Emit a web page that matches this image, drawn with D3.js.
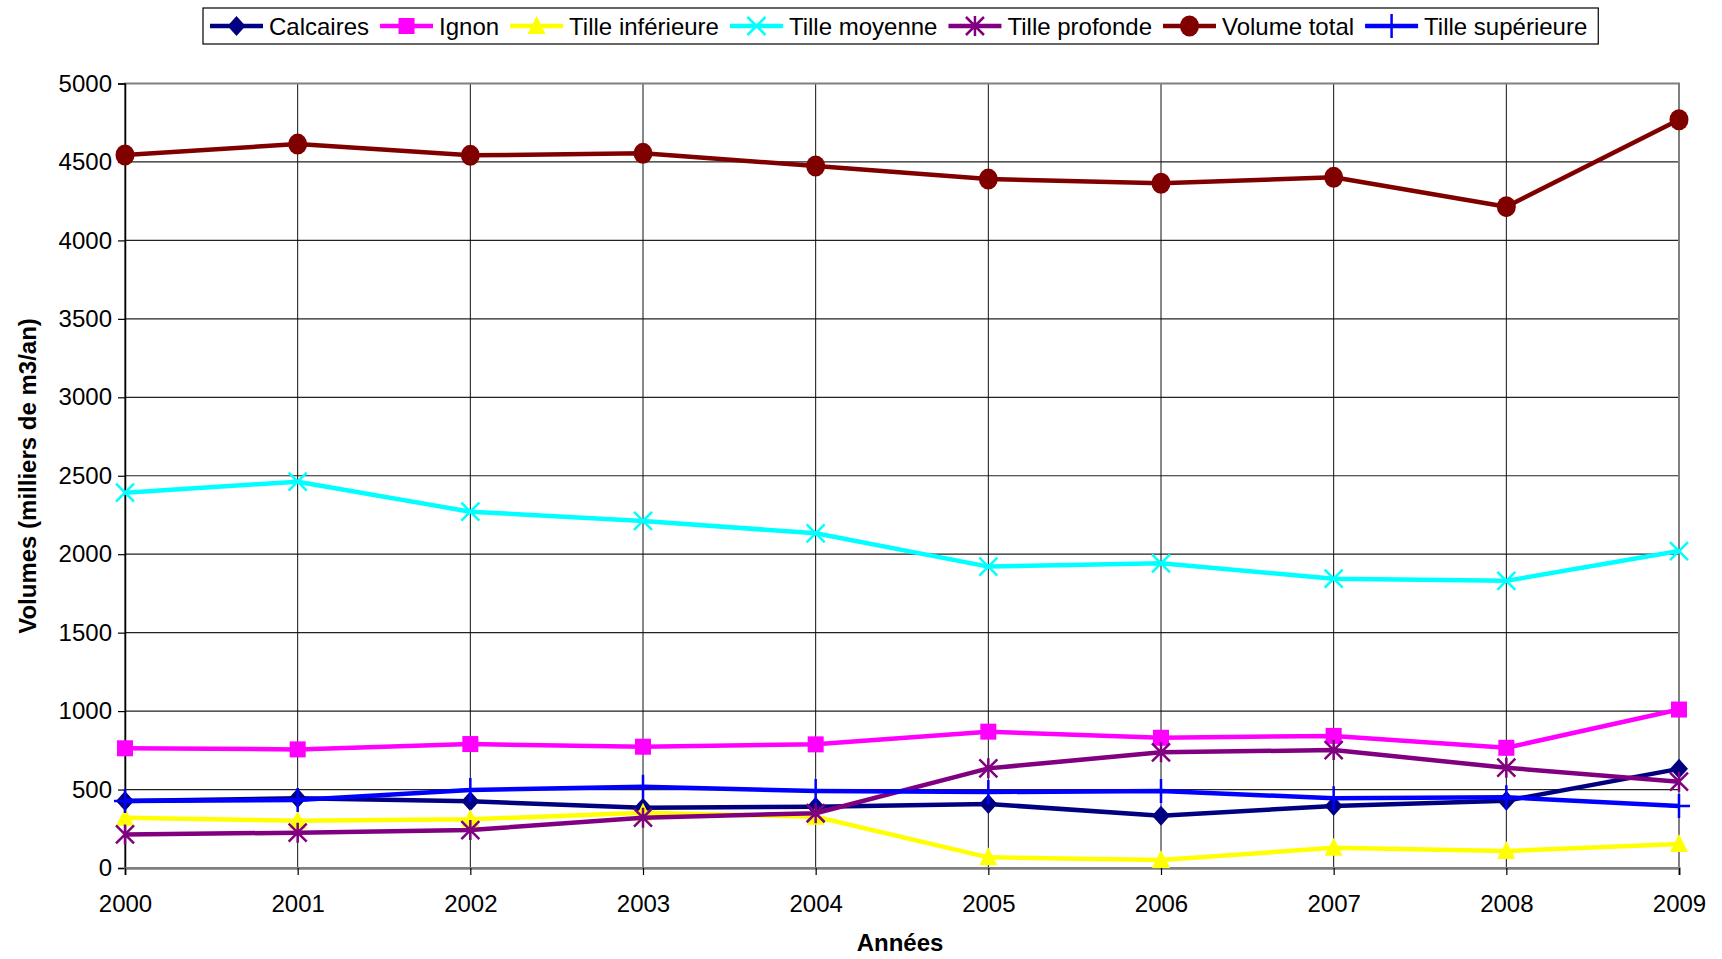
<!DOCTYPE html>
<html><head><meta charset="utf-8">
<script src="https://cdn.jsdelivr.net/npm/d3@7"></script>
<style>
body{margin:0;background:#fff;}
svg{display:block;font-family:"Liberation Sans",Arial,sans-serif;}
</style></head>
<body>
<svg id="chart" width="1722" height="959"></svg>
<script>
const years = [2000,2001,2002,2003,2004,2005,2006,2007,2008,2009];
const yTicks = [0,500,1000,1500,2000,2500,3000,3500,4000,4500,5000];
const seriesNames = ["Calcaires","Ignon","Tille inférieure","Tille moyenne","Tille profonde","Volume total","Tille supérieure"];
const calcaires = [427,444,425,384,391,408,333,395,429,632];
const ignon = [763,756,790,773,788,869,830,842,766,1010];
const tilleInferieure = [321,301,310,352,327,68,51,129,108,153];
const tilleMoyenne = [2392,2462,2271,2212,2133,1921,1942,1844,1830,2020];
const tilleProfonde = [214,225,242,321,349,635,737,752,639,550];
const volumeTotal = [4544,4614,4542,4555,4474,4391,4364,4402,4215,4769];
const tilleSuperieure = [427,433,497,518,491,484,491,444,451,395];
const seriesValues = [calcaires,ignon,tilleInferieure,tilleMoyenne,tilleProfonde,volumeTotal,tilleSuperieure];
const colors = ["#000080","#FF00FF","#FFFF00","#00FFFF","#800080","#800000","#0000FF"];
const markers = ["diamond","square","triangle","x","star","circle","plus"];

const svg = d3.select("#chart");
const L=125,R=1679,T=83.5,B=868;
const x = d3.scaleLinear().domain([2000,2009]).range([L,R]);
const y = d3.scaleLinear().domain([0,5000]).range([B,T]);

// grid
const g = svg.append("g");
g.selectAll(".hg").data(yTicks).enter().append("line")
  .attr("x1",L).attr("x2",R).attr("y1",d=>y(d)).attr("y2",d=>y(d))
  .attr("stroke","#222").attr("stroke-width",1.2);
g.selectAll(".vg").data(years).enter().append("line")
  .attr("x1",d=>x(d)).attr("x2",d=>x(d)).attr("y1",T).attr("y2",B)
  .attr("stroke","#111").attr("stroke-width",1);
// plot border
svg.append("rect").attr("x",L).attr("y",T).attr("width",R-L).attr("height",B-T)
  .attr("fill","none").attr("stroke","#808080").attr("stroke-width",2);

// axes
const ya = svg.append("g").attr("transform",`translate(${L},0)`)
  .call(d3.axisLeft(y).tickValues(yTicks).tickSize(7).tickPadding(6).tickFormat(d3.format("d")));
ya.select(".domain").attr("stroke","#000").attr("stroke-width",1.5);
ya.selectAll(".tick line").attr("stroke","#000").attr("stroke-width",1.2);
ya.selectAll("text").attr("font-size",24).attr("fill","#000").attr("font-family","Liberation Sans, Arial, sans-serif");

const xa = svg.append("g").attr("transform",`translate(0,${B})`)
  .call(d3.axisBottom(x).tickValues(years).tickSize(7).tickPadding(20).tickFormat(d3.format("d")));
xa.select(".domain").attr("stroke","#808080").attr("stroke-width",2.5);
xa.selectAll(".tick line").attr("stroke","#000").attr("stroke-width",1.2);
xa.selectAll("text").attr("font-size",24).attr("fill","#000").attr("font-family","Liberation Sans, Arial, sans-serif");

// titles
svg.append("text").attr("x",(L+R)/2-2).attr("y",951).attr("text-anchor","middle")
  .attr("font-size",24).attr("font-weight","bold").text("Années");
svg.append("text").attr("transform","translate(36,476) rotate(-90)").attr("text-anchor","middle")
  .attr("font-size",24).attr("font-weight","bold").text("Volumes (milliers de m3/an)");

function drawMarker(sel, type, color){
  if(type==="diamond") sel.append("path").attr("d","M0,-10L9,0L0,10L-9,0Z").attr("fill",color);
  else if(type==="square") sel.append("rect").attr("x",-8).attr("y",-8).attr("width",16).attr("height",16).attr("fill",color);
  else if(type==="triangle") sel.append("path").attr("d","M0,-10L9,8L-9,8Z").attr("fill",color);
  else if(type==="circle") sel.append("ellipse").attr("rx",9.5).attr("ry",10.5).attr("fill",color);
  else if(type==="x") sel.append("path").attr("d","M-9,-9L9,9M-9,9L9,-9").attr("stroke",color).attr("stroke-width",2.5).attr("fill","none");
  else if(type==="star") sel.append("path").attr("d","M-9,-9L9,9M-9,9L9,-9M0,-10L0,10").attr("stroke",color).attr("stroke-width",2.5).attr("fill","none");
  else if(type==="plus") sel.append("path").attr("d","M0,-12L0,12M-11,0L11,0").attr("stroke",color).attr("stroke-width",2.5).attr("fill","none");
}

const line = d3.line().x((d,i)=>x(years[i])).y(d=>y(d));
seriesValues.forEach((vals,si)=>{
  const sg = svg.append("g");
  sg.append("path").datum(vals).attr("d",line).attr("fill","none")
    .attr("stroke",colors[si]).attr("stroke-width",4.5).attr("stroke-linejoin","round");
  sg.selectAll(".m").data(vals).enter().append("g")
    .attr("transform",(d,i)=>`translate(${x(years[i])},${y(d)})`)
    .each(function(){ drawMarker(d3.select(this), markers[si], colors[si]); });
});

// legend
const lg = svg.append("g");
const box = lg.append("rect").attr("y",8).attr("height",36).attr("fill","#fff").attr("stroke","#000").attr("stroke-width",1.2);
let cx = 210;
seriesNames.forEach((name,si)=>{
  const it = lg.append("g");
  it.append("line").attr("x1",cx).attr("x2",cx+53).attr("y1",26).attr("y2",26)
    .attr("stroke",colors[si]).attr("stroke-width",4.5);
  const mk = it.append("g").attr("transform",`translate(${cx+26.5},26)`);
  drawMarker(mk, markers[si], colors[si]);
  const t = it.append("text").attr("x",cx+59).attr("y",34.5).attr("font-size",24).text(name);
  cx += 59 + t.node().getComputedTextLength() + 11;
});
box.attr("x",203).attr("width",cx-203);
</script>
</body></html>
